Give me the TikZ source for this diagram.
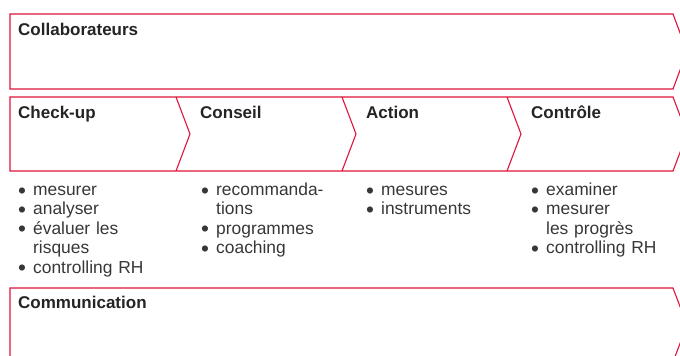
\documentclass[tikz,border=0pt]{standalone}
\usepackage{fontspec}
\setmainfont{Liberation Sans}
\definecolor{rd}{RGB}{222,20,58}
\definecolor{tx}{RGB}{36,36,36}
\definecolor{tl}{RGB}{55,55,55}
\newcommand{\bul}{\makebox[15pt][l]{\smash{\raisebox{-2.6pt}{\scalebox{1.3}{•}}}}}
\newcommand{\ind}{\hspace*{15pt}}
\begin{document}
\begin{tikzpicture}[x=1pt,y=-1pt,
  frame/.style={draw=rd,line width=1.1pt,line join=miter},
  head/.style={anchor=base west,inner sep=0pt,font=\fontsize{17}{19}\selectfont\bfseries,text=tx},
  items/.style={anchor=base west,inner sep=0pt,text width=145pt,align=left,
    font=\fontsize{17.4}{19.4}\selectfont,text=tl}]
\useasboundingbox (0,0) rectangle (680,356);
\clip (0,0) rectangle (680,356);
% top box
\draw[frame] (10,14) -- (673,14) -- (687,51.5) -- (673,89) -- (10,89) -- cycle;
% process row
\draw[frame] (10,97) -- (673,97) -- (687,134) -- (673,171) -- (10,171) -- cycle;
\draw[frame] (176,97) -- (190,134) -- (176,171);
\draw[frame] (342,97) -- (356,134) -- (342,171);
\draw[frame] (507,97) -- (521,134) -- (507,171);
% bottom box
\draw[frame] (10,288) -- (673,288) -- (687,325) -- (673,362) -- (10,362) -- cycle;
% headings
\node[head] (collab) at (18,35) {Collaborateurs};
\node[head] (check) at (18,118) {Check-up};
\node[head] (conseil) at (200,118) {Conseil};
\node[head] (action) at (366,118) {Action};
\node[head] (controle) at (531,118) {Contrôle};
\node[head] (comm) at (18,308) {Communication};
% items
\node[items] (l1) at (18,195.5) {\bul mesurer\\\bul analyser\\\bul évaluer les\\\ind risques\\\bul controlling RH};
\node[items] (l2) at (201,195.5) {\bul recommanda-\\\ind tions\\\bul programmes\\\bul coaching};
\node[items] (l3) at (366,195.5) {\bul mesures\\\bul instruments};
\node[items] (l4) at (531,195.5) {\bul examiner\\\bul mesurer\\\ind les progrès\\\bul controlling RH};
\end{tikzpicture}
\end{document}
